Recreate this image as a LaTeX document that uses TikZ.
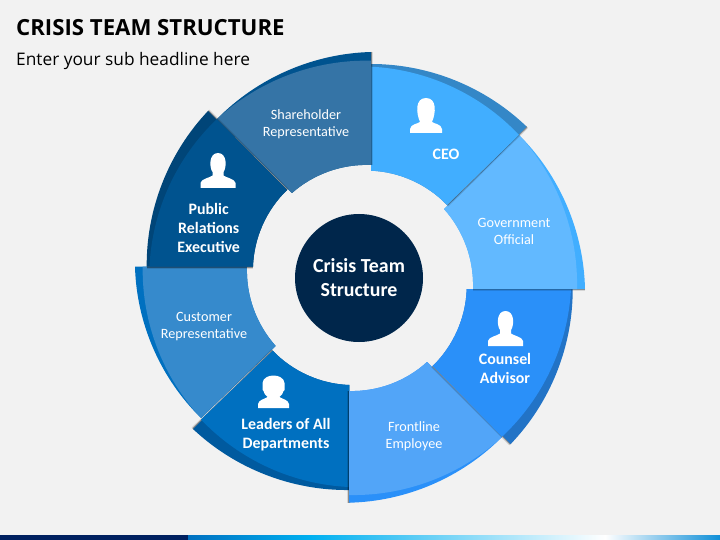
\documentclass[tikz,border=0pt]{standalone}
\usepackage{fontspec}
\setmainfont{Carlito}
\newfontfamily\titlefont{Open Sans}
\definecolor{pagebg}{HTML}{F2F2F2}
\definecolor{hubblue}{HTML}{00264B}
\tikzset{
    cwarc/.style={bend left=22,looseness=.88},
    ccwarc/.style={bend right=22,looseness=.88},
    edgeshadow/.style={line cap=round,preaction={draw=black,opacity=.12,line width=4pt},preaction={draw=black,opacity=.35,line width=2pt}},
    seglabel/.style={text=white,align=center,font=\fontsize{14.2}{17}\selectfont,inner sep=0pt},
    seghead/.style={text=white,align=center,font=\fontsize{15.9}{19}\selectfont\bfseries,inner sep=0pt},
    man/.pic={
        \fill[white] (-17.5,0) -- (-17.5,-5) .. controls (-17,-9) and (-9,-10) .. (-5.5,-12.5) -- (-5.5,-16) .. controls (-9,-21) and (-9,-35) .. (0,-35) .. controls (9,-35) and (9,-21) .. (5.5,-16) -- (5.5,-12.5) .. controls (9,-10) and (17,-9) .. (17.5,-5) -- (17.5,0) -- cycle;
    },
    woman/.pic={
        \fill[white] (-16,0) -- (-16,-4) .. controls (-15,-9) and (-9,-9) .. (-6,-11) .. controls (-10,-20) and (-11,-35) .. (0,-35) .. controls (11,-35) and (10,-20) .. (6,-11) .. controls (9,-9) and (15,-9) .. (16,-4) -- (16,0) -- cycle;
    },
    agent/.pic={
        \fill[white] (-15.5,0) -- (-15.5,-4) .. controls (-15,-8) and (-9,-9) .. (-6,-11) .. controls (-8,-13) and (-10,-15) .. (-10,-17) -- (-11,-18) -- (-11,-25) .. controls (-10,-35) and (10,-35) .. (11,-25) -- (11,-18) -- (10,-17) .. controls (10,-15) and (8,-13) .. (6,-11) .. controls (9,-9) and (15,-8) .. (15.5,-4) -- (15.5,0) -- cycle;
    }
}
\begin{document}
\begin{tikzpicture}[x=1pt,y=-1pt]
    \fill[pagebg] (0,0) rectangle (720,540);
    \useasboundingbox (0,0) rectangle (720,540);

    % bottom strip
    \fill[color={rgb,255:red,0;green,32;blue,96}] (0,535) rectangle (188,540);
    \shade[left color={rgb,255:red,0;green,112;blue,192},right color={rgb,255:red,0;green,176;blue,240}] (188,535) rectangle (310,540);
    \shade[left color={rgb,255:red,0;green,176;blue,240},right color=white] (310,535) rectangle (605,540);
    \shade[left color=white,right color={rgb,255:red,15;green,143;blue,216}] (605,535) rectangle (720,540);

    \node[anchor=base west,inner sep=0pt,font=\titlefont\fontsize{22.2}{26}\selectfont\bfseries] (title) at (16,36) {CRISIS TEAM STRUCTURE};
    \node[anchor=base west,inner sep=0pt,font=\titlefont\fontsize{17.3}{21}\selectfont] (subtitle) at (16,65.5) {Enter your sub headline here};

    % ring, each piece laid over the one before
    \fill[color={rgb,255:red,0;green,112;blue,192}] (135,266.7) to[ccwarc] (201,418) -- (275.7,346) to[cwarc] (247,266.7) -- cycle;
    \fill[color={rgb,255:red,54;green,138;blue,204}] (142.7,266.7) to[ccwarc] (201,418) -- (275.7,346) to[cwarc] (247,266.7) -- cycle;

    \path[edgeshadow] (193,429) -- (272.7,350.7);
    \fill[color={rgb,255:red,0;green,90;blue,159}] (193,429) to[ccwarc] (349.3,490) -- (349.3,385) to[cwarc] (272.7,350.7) -- cycle;
    \fill[color={rgb,255:red,0;green,112;blue,192}] (201,419.5) to[ccwarc] (349.3,487) -- (349.3,385) to[cwarc] (272.7,350.7) -- cycle;

    \path[edgeshadow] (349,502.7) -- (349,391);
    \fill[color={rgb,255:red,42;green,144;blue,249}] (349,502.7) to[ccwarc] (502,437) -- (427,362) to[cwarc] (349,391) -- cycle;
    \fill[color={rgb,255:red,82;green,165;blue,248}] (349,495) to[ccwarc] (502,437) -- (427,362) to[cwarc] (349,391) -- cycle;

    \path[edgeshadow] (510.7,444) -- (432.7,366);
    \fill[color={rgb,255:red,34;green,115;blue,198}] (510.7,444) to[ccwarc] (572.7,289) -- (466.7,289) to[cwarc] (432.7,366) -- cycle;
    \fill[color={rgb,255:red,42;green,144;blue,249}] (502,436.7) to[ccwarc] (571,289) -- (466.7,289) to[cwarc] (432.7,366) -- cycle;

    \path[edgeshadow] (585,289) -- (473,289);
    \fill[color={rgb,255:red,65;green,174;blue,255}] (519,135) to[cwarc] (585,289) -- (473,289) to[ccwarc] (444,209) -- cycle;
    \fill[color={rgb,255:red,98;green,185;blue,255}] (519,135) to[cwarc] (577,289) -- (473,289) to[ccwarc] (444,209) -- cycle;

    \path[edgeshadow] (526.7,126.7) -- (447,205);
    \fill[color={rgb,255:red,52;green,135;blue,199}] (371,64) to[cwarc] (526.7,126.7) -- (447,205) to[ccwarc] (371,170.7) -- cycle;
    \fill[color={rgb,255:red,65;green,174;blue,255}] (371,66.7) to[cwarc] (519,135) -- (447,205) to[ccwarc] (371,170.7) -- cycle;

    \path[edgeshadow] (371,52) -- (371,165);
    \fill[color={rgb,255:red,0;green,83;blue,143}] (217,119) to[cwarc] (371,52) -- (371,165) to[ccwarc] (292,193) -- cycle;
    \fill[color={rgb,255:red,53;green,116;blue,166}] (217,119) to[cwarc] (371,60.7) -- (371,165) to[ccwarc] (292,193) -- cycle;

    \path[edgeshadow] (208,111) -- (287,190);
    \path[edgeshadow] (146.7,266.7) -- (253,266.7);
    \fill[color={rgb,255:red,0;green,69;blue,120}] (146.7,266.7) to[cwarc] (208,111) -- (287,190) to[ccwarc] (253,266.7) -- cycle;
    \fill[color={rgb,255:red,0;green,83;blue,143}] (149.5,266.7) to[cwarc] (217,119) -- (287,190) to[ccwarc] (253,266.7) -- cycle;

    \node[shape=circle,fill=hubblue,minimum size=128pt,inner sep=0pt,text=white,align=center,font=\fontsize{19.9}{24}\selectfont\bfseries] (hub) at (359,278) {Crisis Team\\Structure};

    \node[seglabel] (shareholder) at (306,124) {Shareholder\\Representative};
    \node[seghead] (ceo) at (446,154.7) {CEO};
    \node[seglabel] (government) at (514,231) {Government\\Official};
    \node[seghead] (counsel) at (505,368) {Counsel\\Advisor};
    \node[seglabel] (frontline) at (414,436.5) {Frontline\\Employee};
    \node[seghead] (leaders) at (286,435) {Leaders of All\\Departments};
    \node[seglabel] (customer) at (204,327) {Customer\\Representative};
    \node[seghead] (public) at (208.7,227.5) {Public\\Relations\\Executive};

    \pic at (426,133) {woman};
    \pic at (218,188) {man};
    \pic at (505.5,346) {man};
    \pic at (273.5,408) {agent};
\end{tikzpicture}
\end{document}
